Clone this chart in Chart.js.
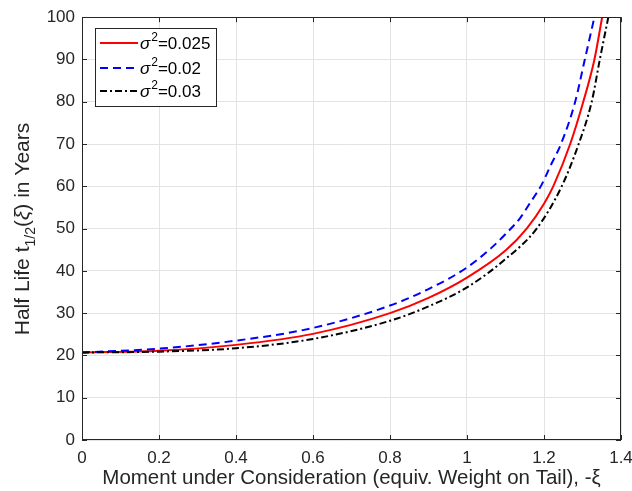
<!DOCTYPE html>
<html lang="en">
<head>
    <meta charset="UTF-8">
    <script src="https://cdn.jsdelivr.net/npm/chart.js"></script>
    <title>Half life vs moment</title>
    <style>
        body { margin: 0; background: #fff; }
        #wrap { width: 632px; height: 491px; }
    </style>
</head>
<body>
    <div id="wrap"><canvas id="grafico"></canvas></div>

<script>
    // values
    var xRed = [0, 0.2, 0.4, 0.6, 0.8, 0.9, 1.0, 1.1, 1.155, 1.2, 1.224, 1.268, 1.302, 1.331, 1.351]
    var yRed = [20.7, 21.1, 22.5, 25.1, 30.0, 33.6, 38.4, 44.8, 50, 55.9, 60, 70, 80, 90, 100]

    var xBlue = [0, 0.2, 0.4, 0.6, 0.8, 0.9, 1.0, 1.064, 1.099, 1.138, 1.164, 1.194, 1.216, 1.244, 1.281, 1.306, 1.331]
    var yBlue = [20.7, 21.6, 23.5, 26.5, 31.8, 35.7, 40.8, 45.5, 48.6, 52.5, 56.1, 60.4, 64.7, 70, 80, 90, 100]

    var xBlack = [0, 0.2, 0.4, 0.6, 0.8, 0.9, 1.0, 1.1, 1.181, 1.246, 1.29, 1.324, 1.345, 1.367]
    var yBlack = [20.7, 20.9, 21.7, 23.9, 28.2, 31.6, 36.1, 42.8, 50, 60, 70, 80, 90, 100]

    var legendas = ['0.025', '0.02', '0.03']

    function pontos(xs, ys) {
        return xs.map((x, i) => ({ x: x, y: ys[i] }))
    }

    var fonte = '"Liberation Sans", Arial, Helvetica, sans-serif'
    var corEixo = '#262626'

    // box + inward ticks like matlab
    const moldura = {
        id: 'moldura',
        afterDraw(chart) {
            const { ctx, chartArea: a, scales: { x, y } } = chart
            ctx.save()
            ctx.strokeStyle = corEixo
            ctx.lineWidth = 1
            ctx.beginPath()
            x.ticks.forEach(t => {
                const px = Math.round(x.getPixelForValue(t.value)) + 0.5
                ctx.moveTo(px, a.bottom); ctx.lineTo(px, a.bottom - 5)
                ctx.moveTo(px, a.top); ctx.lineTo(px, a.top + 5)
            })
            y.ticks.forEach(t => {
                const py = Math.round(y.getPixelForValue(t.value)) + 0.5
                ctx.moveTo(a.left, py); ctx.lineTo(a.left + 5, py)
                ctx.moveTo(a.right, py); ctx.lineTo(a.right - 5, py)
            })
            ctx.stroke()
            ctx.strokeRect(Math.round(a.left) + 0.5, Math.round(a.top) + 0.5, Math.round(a.width) - 1, Math.round(a.height) - 1)
            ctx.restore()
        }
    }

    // legend box with sigma^2 labels
    const legenda = {
        id: 'legenda',
        afterDraw(chart) {
            const ctx = chart.ctx
            const sets = chart.data.datasets
            ctx.save()
            ctx.fillStyle = '#fff'
            ctx.strokeStyle = corEixo
            ctx.lineWidth = 1
            ctx.fillRect(95.5, 28.5, 121, 78)
            ctx.strokeRect(95.5, 28.5, 121, 78)
            var linhasY = [43, 68, 91]
            sets.forEach((ds, i) => {
                var ly = linhasY[i]
                ctx.beginPath()
                ctx.setLineDash(ds.borderDash || [])
                ctx.strokeStyle = ds.borderColor
                ctx.lineWidth = ds.borderWidth
                ctx.moveTo(100, ly)
                ctx.lineTo(138, ly)
                ctx.stroke()
                ctx.setLineDash([])
                ctx.fillStyle = '#000'
                ctx.textBaseline = 'alphabetic'
                var tx = 140
                ctx.font = 'italic 17px ' + fonte
                ctx.fillText('σ', tx, ly + 6)
                tx += ctx.measureText('σ').width + 1
                ctx.font = '12px ' + fonte
                ctx.fillText('2', tx, ly - 2)
                tx += ctx.measureText('2').width
                ctx.font = '17px ' + fonte
                ctx.fillText('=' + legendas[i], tx, ly + 6)
            })
            ctx.restore()
        }
    }

    // y title with subscript 1/2
    const tituloY = {
        id: 'tituloY',
        afterDraw(chart) {
            const ctx = chart.ctx
            const partes = [
                { t: 'Half Life t', f: '21px ' + fonte, dy: 0 },
                { t: '1/2', f: '14px ' + fonte, dy: 6 },
                { t: '(', f: '21px ' + fonte, dy: 0 },
                { t: 'ξ', f: 'italic 21px ' + fonte, dy: 0 },
                { t: ') in Years', f: '21px ' + fonte, dy: 0 }
            ]
            ctx.save()
            ctx.fillStyle = '#262626'
            ctx.translate(28.5, 229)
            ctx.rotate(-Math.PI / 2)
            ctx.textBaseline = 'alphabetic'
            var total = 0
            partes.forEach(p => { ctx.font = p.f; total += ctx.measureText(p.t).width })
            var px = -total / 2
            partes.forEach(p => {
                ctx.font = p.f
                ctx.fillText(p.t, px, p.dy)
                px += ctx.measureText(p.t).width
            })
            ctx.restore()
        }
    }

    var grafico = new Chart(document.getElementById('grafico').getContext('2d'), {
        type: 'line',
        data: {
            datasets: [{
                label: 'σ²=' + legendas[0],
                data: pontos(xRed, yRed),
                borderColor: '#ff0000',
                borderWidth: 2,
                order: 2
            },
            {
                label: 'σ²=' + legendas[1],
                data: pontos(xBlue, yBlue),
                borderColor: '#0000ff',
                borderWidth: 2,
                borderDash: [8, 5],
                order: 1
            },
            {
                label: 'σ²=' + legendas[2],
                data: pontos(xBlack, yBlack),
                borderColor: '#000000',
                borderWidth: 2,
                borderDash: [7, 3, 2, 3],
                order: 0
            }]
        },
        options: {
            responsive: true,
            maintainAspectRatio: false,
            animation: false,
            layout: { padding: { left: 0, top: 15, right: 11, bottom: 0 } },
            elements: {
                point: { radius: 0 },
                line: { cubicInterpolationMode: 'monotone', fill: false }
            },
            plugins: {
                legend: { display: false },
                tooltip: { enabled: false }
            },
            scales: {
                x: {
                    type: 'linear',
                    min: 0,
                    max: 1.4,
                    ticks: {
                        stepSize: 0.2,
                        color: '#262626',
                        font: { family: fonte, size: 17 },
                        padding: 8,
                        maxRotation: 0,
                        callback: v => +v.toFixed(1)
                    },
                    grid: { color: '#e3e3e3', drawTicks: false },
                    border: { display: false },
                    title: {
                        display: true,
                        text: 'Moment under Consideration (equiv. Weight on Tail), -ξ',
                        color: '#262626',
                        font: { family: fonte, size: 20.5 },
                        padding: { top: 0, bottom: 0 }
                    },
                    afterFit: s => {
                        s.height = 51
                        s.paddingLeft = 0
                        s.paddingRight = 0
                    }
                },
                y: {
                    min: 0,
                    max: 100,
                    ticks: {
                        stepSize: 10,
                        color: '#262626',
                        font: { family: fonte, size: 17 },
                        padding: 7
                    },
                    grid: { color: '#e3e3e3', drawTicks: false },
                    border: { display: false },
                    afterFit: s => { s.width = 82 }
                }
            }
        },
        plugins: [moldura, legenda, tituloY]
    });
</script>
</body>
</html>
